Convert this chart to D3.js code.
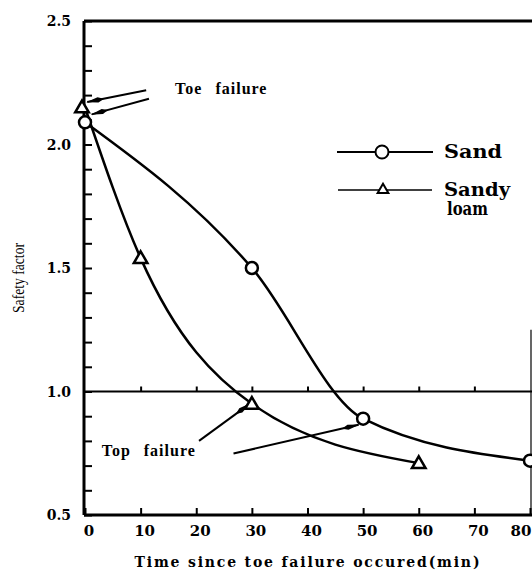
<!DOCTYPE html>
<html>
<head>
<meta charset="utf-8">
<script src="https://cdn.jsdelivr.net/npm/d3@7"></script>
<style>
  html, body { margin: 0; padding: 0; background: #fff; }
  svg { display: block; }
  text { fill: #000; }
</style>
</head>
<body>
<svg id="chart" width="532" height="573"></svg>
<script>
// Safety factor of slope after toe failure
const sandTime = [0, 30, 50, 80];
const sandSafety = [2.09, 1.5, 0.89, 0.72];
const loamTime = [0, 10, 30, 60];
const loamSafety = [2.15, 1.54, 0.95, 0.71];
const xTicks = [0, 10, 20, 30, 40, 50, 60, 70, 80];
const yTickLabels = ["0.5", "1.0", "1.5", "2.0", "2.5"];
const yMinorTicks = d3.range(5, 26).map(v => v / 10);
const referenceLevel = 1.0;
// annotation arrows: [fromTime, fromSafety, toTime, toSafety]
const toeArrows = [[11, 2.22, 0.4, 2.172], [11.5, 2.185, 1.2, 2.122]];
const topArrows = [[20.5, 0.80, 29.6, 0.95], [26.7, 0.749, 49.2, 0.865]];

const svg = d3.select("#chart");
const x = d3.scaleLinear().domain([0, 80]).range([85, 530]);
const y = d3.scaleLinear().domain([0.5, 2.5]).range([515, 21]);
const serifBold = "'DejaVu Serif', serif";
const serif = "'Liberation Serif', 'Times New Roman', serif";

// arrowhead marker
svg.append("defs").append("marker")
  .attr("id", "head")
  .attr("viewBox", "0 -3 18 6")
  .attr("refX", 17).attr("refY", 0)
  .attr("markerUnits", "userSpaceOnUse")
  .attr("markerWidth", 18).attr("markerHeight", 6)
  .attr("orient", "auto")
  .append("path")
  .attr("d", "M0,0 L6,-2.6 L18,0 L6,2.6 Z")
  .attr("fill", "#000");

// frame
const frame = svg.append("g").attr("stroke", "#000").attr("fill", "none");
frame.append("line").attr("x1", x(0) - 1).attr("x2", 532).attr("y1", y(2.5)).attr("y2", y(2.5)).attr("stroke-width", 3);
frame.append("line").attr("x1", 531).attr("x2", 531).attr("y1", y(1.25)).attr("y2", y(0.5)).attr("stroke-width", 1.2);

// left axis with inward minor ticks
const yAxis = d3.axisRight(y).tickValues(yMinorTicks).tickSize(8).tickFormat("");
const gy = svg.append("g").attr("transform", `translate(${x(0) - 1},0)`).call(yAxis);
gy.select(".domain").attr("stroke-width", 3).attr("d", `M0,${y(2.5)}V${y(0.5)}`);
gy.selectAll(".tick line").attr("stroke-width", 2);

svg.append("g").selectAll("text").data(yTickLabels).join("text")
  .attr("x", 71).attr("y", d => y(+d) + 5)
  .attr("text-anchor", "end")
  .attr("font-family", serifBold).attr("font-weight", "bold").attr("font-size", 14)
  .text(d => d);

// bottom axis with upward ticks
const xAxis = d3.axisTop(x).tickValues(xTicks).tickSize(7).tickFormat("");
const gx = svg.append("g").attr("transform", `translate(0,${y(0.5)})`).call(xAxis);
gx.select(".domain").attr("stroke-width", 3).attr("d", `M${x(0) - 1},0H532`);
gx.selectAll(".tick line").attr("stroke-width", 2);

svg.append("g").selectAll("text").data(xTicks).join("text")
  .attr("x", d => Math.min(x(d) + 4, 521)).attr("y", 536)
  .attr("text-anchor", "middle")
  .attr("font-family", serifBold).attr("font-weight", "bold").attr("font-size", 15)
  .text(d => d);

// reference line at safety factor 1.0 with small ticks
const gr = svg.append("g").attr("transform", `translate(0,${y(referenceLevel)})`)
  .call(d3.axisTop(x).tickValues(xTicks.slice(1, 8)).tickSize(5).tickFormat(""));
gr.select(".domain").attr("stroke-width", 2).attr("d", `M${x(0)},0H532`);
gr.selectAll(".tick line").attr("stroke-width", 2);

// axis titles
svg.append("text")
  .attr("x", 307).attr("y", 567)
  .attr("text-anchor", "middle")
  .attr("font-family", serifBold).attr("font-weight", "bold").attr("font-size", 14)
  .attr("textLength", 345).attr("lengthAdjust", "spacing")
  .text("Time since toe failure occured(min)");

svg.append("text")
  .attr("transform", "translate(24,278) rotate(-90)")
  .attr("text-anchor", "middle")
  .attr("font-family", serif).attr("font-size", 16)
  .attr("textLength", 70).attr("lengthAdjust", "spacingAndGlyphs")
  .text("Safety factor");

// curves
const sand = sandTime.map((t, i) => [t, sandSafety[i]]);
const loam = loamTime.map((t, i) => [t, loamSafety[i]]);
const line = d3.line().x(d => x(d[0])).y(d => y(d[1])).curve(d3.curveMonotoneX);

svg.append("path").datum(loam).attr("d", line)
  .attr("fill", "none").attr("stroke", "#000").attr("stroke-width", 2.5);
svg.append("path").datum(sand).attr("d", line)
  .attr("fill", "none").attr("stroke", "#000").attr("stroke-width", 2.5);

// annotation arrows
const arrowG = svg.append("g");
arrowG.selectAll("line").data(toeArrows.concat(topArrows)).join("line")
  .attr("x1", d => x(d[0])).attr("y1", d => y(d[1]))
  .attr("x2", d => x(d[2])).attr("y2", d => y(d[3]))
  .attr("stroke", "#000").attr("stroke-width", 2)
  .attr("marker-end", "url(#head)");

// markers
const tri = d3.symbol().type(d3.symbolTriangle).size(80);
svg.append("g").selectAll("path").data(loam).join("path")
  .attr("transform", d => `translate(${x(d[0]) - (d[0] === 0 ? 3 : 0)},${y(d[1]) + 1})`)
  .attr("d", tri)
  .attr("fill", "#fff").attr("stroke", "#000").attr("stroke-width", 2.5);
svg.append("g").selectAll("circle").data(sand).join("circle")
  .attr("cx", d => x(d[0])).attr("cy", d => y(d[1]))
  .attr("r", 6)
  .attr("fill", "#fff").attr("stroke", "#000").attr("stroke-width", 2.5);

// annotation labels
const noteStyle = sel => sel
  .attr("font-family", serif).attr("font-size", 16).attr("font-weight", "bold")
  .attr("letter-spacing", 1).attr("word-spacing", 8);
svg.append("text")
  .attr("x", x(16.2)).attr("y", y(2.205))
  .call(noteStyle)
  .text("Toe failure");
svg.append("text")
  .attr("x", x(3)).attr("y", y(0.738))
  .call(noteStyle)
  .text("Top failure");

// legend
const legend = svg.append("g");
legend.append("line").attr("x1", 337).attr("x2", 433).attr("y1", 152).attr("y2", 152)
  .attr("stroke", "#000").attr("stroke-width", 2.2);
legend.append("circle").attr("cx", 382).attr("cy", 152).attr("r", 6.5)
  .attr("fill", "#fff").attr("stroke", "#000").attr("stroke-width", 2);
legend.append("text").attr("x", 444).attr("y", 158)
  .attr("font-family", serifBold).attr("font-weight", "bold").attr("font-size", 18)
  .attr("textLength", 58).attr("lengthAdjust", "spacingAndGlyphs")
  .text("Sand");
legend.append("line").attr("x1", 338).attr("x2", 432).attr("y1", 190).attr("y2", 190)
  .attr("stroke", "#000").attr("stroke-width", 1.4);
legend.append("path").attr("transform", "translate(383,190)")
  .attr("d", d3.symbol().type(d3.symbolTriangle).size(50))
  .attr("fill", "#fff").attr("stroke", "#000").attr("stroke-width", 2);
legend.append("text").attr("x", 444).attr("y", 196)
  .attr("font-family", serifBold).attr("font-weight", "bold").attr("font-size", 18)
  .attr("textLength", 66).attr("lengthAdjust", "spacingAndGlyphs")
  .text("Sandy");
legend.append("text").attr("x", 447).attr("y", 215)
  .attr("font-family", serifBold).attr("font-weight", "bold").attr("font-size", 18)
  .attr("textLength", 41).attr("lengthAdjust", "spacingAndGlyphs")
  .text("loam");
</script>
</body>
</html>
